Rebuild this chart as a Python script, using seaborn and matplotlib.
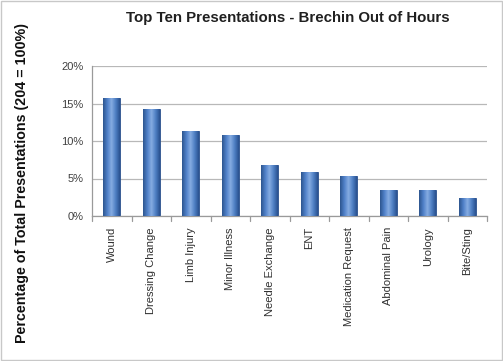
import matplotlib
matplotlib.use("Agg")
import matplotlib.pyplot as plt
import numpy as np
import pandas as pd
import seaborn as sns
from matplotlib.colors import LinearSegmentedColormap
from matplotlib.patches import Rectangle

categories = ["Wound", "Dressing Change", "Limb Injury", "Minor Illness",
              "Needle Exchange", "ENT", "Medication Request",
              "Abdominal Pain", "Urology", "Bite/Sting"]
counts = [32, 29, 23, 22, 14, 12, 11, 7, 7, 5]
total = 204
y_ticks = [0, 0.05, 0.10, 0.15, 0.20]
y_tick_labels = ["0%", "5%", "10%", "15%", "20%"]

df = pd.DataFrame({"category": categories,
                   "share": [c / total for c in counts]})

sns.set_theme(style="white")
plt.rcParams["font.family"] = ["Liberation Sans", "DejaVu Sans"]

fig = plt.figure(figsize=(5.03, 3.61), dpi=100)
ax = fig.add_axes([92 / 503, (361 - 216) / 361, (487 - 92) / 503, 150 / 361])

sns.barplot(data=df, x="category", y="share", color="#4a7cc0",
            width=0.43, ax=ax, saturation=1)

# cylinder-style shading across each bar
shade = LinearSegmentedColormap.from_list(
    "cyl", ["#2d568f", "#4f80c8", "#86ace2", "#4f80c4", "#2a5190"])
grad = np.linspace(0, 1, 64).reshape(1, -1)
for p in ax.patches:
    x0, y0 = p.get_x(), p.get_y()
    w, h = p.get_width(), p.get_height()
    im = ax.imshow(grad, cmap=shade, aspect="auto",
                   extent=[x0, x0 + w, y0, y0 + h], zorder=3)
    im.set_clip_path(p)
    p.set_edgecolor("#2a4f8a")
    p.set_linewidth(0.6)

ax.set_xlim(-0.5, len(categories) - 0.5)
ax.set_ylim(0, 0.2)
ax.set_yticks(y_ticks)
ax.set_yticklabels(y_tick_labels, fontsize=8, color="#404040")
ax.set_xticks(range(len(categories)))
ax.set_xticklabels(categories, rotation=90, fontsize=8, color="#303030")
ax.set_xlabel("")
ax.set_ylabel("")

ax.yaxis.grid(True, color="#b8b8b8", linewidth=0.9)
ax.set_axisbelow(True)
for s in ["top", "right"]:
    ax.spines[s].set_visible(False)
for s in ["left", "bottom"]:
    ax.spines[s].set_color("#9a9a9a")
    ax.spines[s].set_linewidth(0.9)

ax.tick_params(axis="x", length=0, pad=8)
ax.tick_params(axis="y", length=0, pad=6)
# category separators on the floor edge
for b in np.arange(-0.5, len(categories), 1.0):
    ax.plot([b, b], [0, -0.006], color="#9a9a9a", lw=0.9, clip_on=False)

fig.text(288 / 503, 1 - 18 / 361, "Top Ten Presentations - Brechin Out of Hours",
         ha="center", va="center", fontsize=10.8, fontweight="bold",
         color="#202020")
fig.text(22 / 503, 1 - 183 / 361, "Percentage of Total Presentations (204 = 100%)",
         ha="center", va="center", rotation=90, fontsize=10.3,
         fontweight="bold", color="#101010")

fig.patches.append(Rectangle((0.002, 0.003), 0.996, 0.994, transform=fig.transFigure,
                             fill=False, edgecolor="#c8c8c8", linewidth=1))

fig.savefig("out.png", dpi=100)
